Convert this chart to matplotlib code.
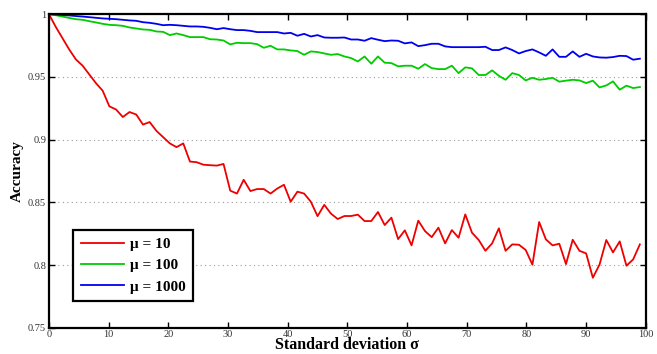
import numpy as np
import matplotlib
matplotlib.use("Agg")
import matplotlib.pyplot as plt

# sigma values (89 samples between 0 and 99)
sigma = np.linspace(0, 99, 89)

acc_mu10 = [
    1.0, 0.990, 0.981, 0.972, 0.964, 0.959, 0.952, 0.945, 0.939, 0.9265,
    0.924, 0.918, 0.922, 0.920, 0.912, 0.914, 0.907, 0.902, 0.897, 0.894,
    0.897, 0.8825, 0.882, 0.880, 0.8796, 0.8793, 0.8806, 0.8593, 0.857, 0.868,
    0.859, 0.8606, 0.8606, 0.857, 0.861, 0.864, 0.8505, 0.8585, 0.857, 0.8505,
    0.839, 0.848, 0.841, 0.8367, 0.8391, 0.8391, 0.8402, 0.8351, 0.8351, 0.8423,
    0.8319, 0.8378, 0.8207, 0.8277, 0.8157, 0.8354, 0.8271, 0.8223, 0.8298, 0.8173,
    0.8279, 0.8218, 0.8404, 0.8258, 0.820, 0.8114, 0.8173, 0.8293, 0.8114, 0.8165,
    0.8162, 0.812, 0.8003, 0.8343, 0.8205, 0.8157, 0.817, 0.8008, 0.8202, 0.8114,
    0.8093, 0.7899, 0.8005, 0.820, 0.8101, 0.8189, 0.7995, 0.8045, 0.8165,
]

acc_mu100 = [
    1.0, 0.9992, 0.9981, 0.997, 0.996, 0.9955, 0.9944, 0.9934, 0.9923, 0.9915,
    0.9912, 0.9907, 0.9894, 0.9886, 0.9878, 0.9875, 0.9862, 0.9859, 0.9833, 0.9846,
    0.9833, 0.9817, 0.9817, 0.9817, 0.980, 0.9798, 0.979, 0.9759, 0.9772, 0.9769,
    0.9769, 0.9761, 0.9732, 0.9748, 0.9719, 0.9719, 0.9711, 0.9706, 0.9676, 0.9703,
    0.9698, 0.9687, 0.9676, 0.9682, 0.9663, 0.965, 0.9623, 0.9663, 0.9605, 0.9663,
    0.9613, 0.961, 0.9584, 0.9589, 0.9589, 0.9565, 0.9602, 0.957, 0.9562, 0.9562,
    0.9589, 0.953, 0.9576, 0.9568, 0.9515, 0.9515, 0.9552, 0.9509, 0.9477, 0.953,
    0.9515, 0.9472, 0.9493, 0.9477, 0.9483, 0.9493, 0.9462, 0.947, 0.9477, 0.9472,
    0.9451, 0.947, 0.9416, 0.9432, 0.9464, 0.9398, 0.943, 0.9411, 0.9419,
]

acc_mu1000 = [
    1.0, 0.9997, 0.9993, 0.999, 0.9985, 0.9981, 0.9976, 0.9971, 0.9966, 0.9963,
    0.996, 0.9955, 0.995, 0.9947, 0.9936, 0.9931, 0.9923, 0.9912, 0.9915, 0.9912,
    0.9907, 0.9902, 0.9902, 0.9899, 0.9891, 0.988, 0.9889, 0.988, 0.9873, 0.9873,
    0.9867, 0.9857, 0.9857, 0.9857, 0.9857, 0.9846, 0.9851, 0.9828, 0.9843, 0.9822,
    0.9833, 0.9814, 0.9812, 0.9812, 0.9814, 0.9798, 0.9798, 0.9788, 0.9809, 0.9796,
    0.9785, 0.979, 0.9788, 0.9767, 0.9775, 0.9745, 0.9753, 0.9764, 0.9764, 0.9743,
    0.9737, 0.9737, 0.9737, 0.9737, 0.9737, 0.974, 0.9714, 0.9714, 0.9735, 0.9714,
    0.9687, 0.9706, 0.9719, 0.9695, 0.9668, 0.9719, 0.966, 0.966, 0.9703, 0.966,
    0.9684, 0.9663, 0.9655, 0.9653, 0.9658, 0.9668, 0.9666, 0.9637, 0.9645,
]

labels = ["\u03bc = 10", "\u03bc = 100", "\u03bc = 1000"]
colors = ["#ee0000", "#00cc00", "#0000ee"]

plt.rcParams["font.family"] = ["Liberation Serif", "DejaVu Serif"]

fig = plt.figure(figsize=(6.57, 3.54), dpi=100)
ax = fig.add_axes([0.0745, 0.074, 0.9085, 0.886])

for y, lab, c in zip([acc_mu10, acc_mu100, acc_mu1000], labels, colors):
    ax.plot(sigma, y, color=c, linewidth=1.3, label=lab)

ax.set_xlim(0, 100)
ax.set_ylim(0.75, 1.0)
ax.set_xticks(np.arange(0, 101, 10))
ax.set_yticks([0.75, 0.8, 0.85, 0.9, 0.95, 1.0])
ax.set_yticklabels(["0.75", "0.8", "0.85", "0.9", "0.95", "1"])
ax.yaxis.grid(True, linestyle=(0, (1, 3)), color="#999999", linewidth=0.8)
ax.tick_params(direction="in", top=True, right=True, labelsize=7.5,
               length=4, width=1, colors="black", labelcolor="#333333")
ax.tick_params(axis="x", pad=1.5)
ax.tick_params(axis="y", pad=2)
for sp in ax.spines.values():
    sp.set_linewidth(1.6)

ax.set_xlabel("Standard deviation \u03c3", fontsize=11.5, fontweight="bold", labelpad=-1)
ax.set_ylabel("Accuracy", fontsize=11, fontweight="bold", labelpad=3)

leg = ax.legend(loc="lower left", bbox_to_anchor=(0.028, 0.06),
                prop={"weight": "bold", "size": 11}, fancybox=False,
                edgecolor="black", framealpha=1, handlelength=2.8,
                borderpad=0.5, labelspacing=0.5, handletextpad=0.4)
leg.get_frame().set_linewidth(1.6)

fig.savefig("out.png", dpi=100)
